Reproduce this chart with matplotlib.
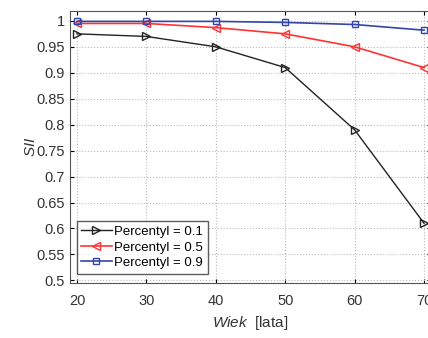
import matplotlib
matplotlib.use('Agg')
import matplotlib.pyplot as plt

plt.rcParams['font.family'] = ['Liberation Sans', 'DejaVu Sans']
plt.rcParams['mathtext.fontset'] = 'custom'
plt.rcParams['mathtext.it'] = 'Liberation Sans:italic'
plt.rcParams['mathtext.rm'] = 'Liberation Sans'

# data
ages = [20, 30, 40, 50, 60, 70]
sii_p01 = [0.975, 0.970, 0.950, 0.910, 0.790, 0.610]
sii_p05 = [0.995, 0.995, 0.987, 0.975, 0.950, 0.910]
sii_p09 = [0.999, 0.999, 0.999, 0.997, 0.993, 0.982]
labels = ['Percentyl = 0.1', 'Percentyl = 0.5', 'Percentyl = 0.9']
yticks = [0.5, 0.55, 0.6, 0.65, 0.7, 0.75, 0.8, 0.85, 0.9, 0.95, 1]
ytick_labels = ['0.5', '0.55', '0.6', '0.65', '0.7', '0.75', '0.8', '0.85', '0.9', '0.95', '1']

fig = plt.figure(figsize=(4.28, 3.38), dpi=100)
ax = fig.add_axes([70 / 428, 55 / 338, 361 / 428, 272 / 338])

ax.plot(ages, sii_p01, color='#222222', marker='>', mfc='none', ms=6, lw=1, label=labels[0])
ax.plot(ages, sii_p05, color='#ff3333', marker='<', mfc='none', ms=6, lw=1.2, label=labels[1])
ax.plot(ages, sii_p09, color='#3344aa', marker='s', mfc='none', ms=5, lw=1.2, label=labels[2])

ax.set_xlim(19, 71)
ax.set_ylim(0.495, 1.019)
ax.set_xticks(ages)
ax.set_yticks(yticks)
ax.set_yticklabels(ytick_labels)
ax.tick_params(direction='in', top=True, right=True, labelsize=10.5,
               labelcolor='#333333', length=3)
ax.tick_params(axis='x', pad=8)
ax.grid(True, linestyle=':', color='#bbbbbb', linewidth=0.8)
for s in ax.spines.values():
    s.set_color('#555555')

ax.set_ylabel('$\\it{SII}$', fontsize=11, color='#333333')
ax.yaxis.set_label_coords(-0.09, 0.5)
ax.set_xlabel('$\\it{Wiek}$  [lata]', fontsize=11, color='#333333', labelpad=4)

leg = ax.legend(loc='lower left', fontsize=9.5, handlelength=2.3, handletextpad=0.2,
                borderpad=0.35, labelspacing=0.25, fancybox=False,
                bbox_to_anchor=(0.0, 0.01))
leg.get_frame().set_edgecolor('#333333')
leg.get_frame().set_linewidth(1)

fig.savefig('out.png', dpi=100)
